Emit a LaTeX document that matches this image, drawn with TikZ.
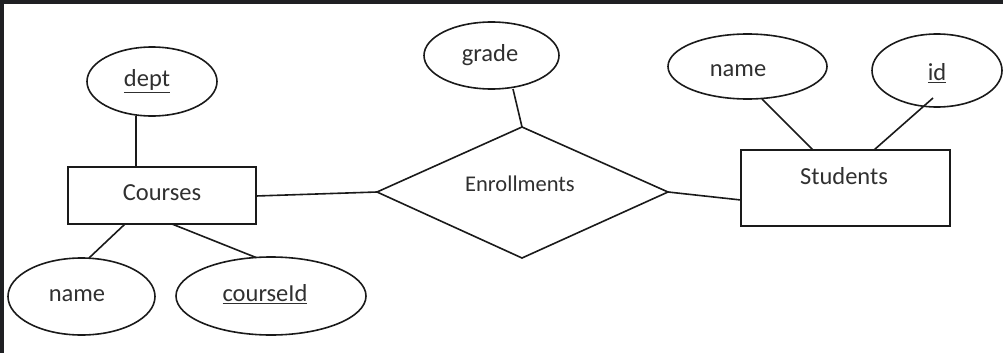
\documentclass[tikz,border=0pt]{standalone}
\usepackage{fontspec}
\setmainfont{Carlito}
\usetikzlibrary{shapes.geometric}
\definecolor{frame}{HTML}{1F2023}
\definecolor{ink}{HTML}{1A1A1A}
\definecolor{txtc}{HTML}{303030}
\begin{document}
\begin{tikzpicture}[x=1pt,y=-1pt,
  lw/.style={line width=1.6pt, draw=ink},
  entity/.style={lw, rectangle, inner sep=0pt},
  attr/.style={lw, ellipse, inner sep=0pt},
  txt/.style={font=\fontsize{24.5}{28}\selectfont, text=txtc, inner sep=0pt},
  conn/.style={lw}]
\useasboundingbox (0,0) rectangle (1003,353);
\fill[white] (0,0) rectangle (1003,353);
\fill[frame] (0,0) rectangle (1003,4);
\fill[frame] (0,0) rectangle (4,353);

% Courses
\node[entity, minimum width=188pt, minimum height=57pt] (courses) at (162,195.5) {};
\node[txt] (coursesT) at (162,193) {Courses};
\node[attr, minimum width=130pt, minimum height=69pt] (dept) at (152,81.5) {};
\node[txt] (deptT) at (147,81) {\underline{dept}};
\node[attr, minimum width=147pt, minimum height=77pt] (cname) at (81.5,296.5) {};
\node[txt] (cnameT) at (77,296) {name};
\node[attr, minimum width=190pt, minimum height=78pt] (cid) at (271,296) {};
\node[txt] (cidT) at (265,294) {\underline{courseId}};

% Enrollments
\coordinate (dL) at (377,192);
\coordinate (dT) at (522,127);
\coordinate (dR) at (668,192);
\coordinate (dB) at (522,258);
\draw[lw, line join=miter] (dL) -- (dT) -- (dR) -- (dB) -- cycle;
\node[txt, font=\fontsize{22.5}{26}\selectfont] (enrT) at (520,184) {Enrollments};
\node[attr, minimum width=135pt, minimum height=67pt] (grade) at (491.5,55.5) {};
\node[txt] (gradeT) at (490,55) {grade};

% Students
\node[entity, minimum width=209pt, minimum height=76pt] (students) at (845.5,188) {};
\node[txt] (studentsT) at (844,176) {Students};
\node[attr, minimum width=159pt, minimum height=65pt] (sname) at (747.5,66.5) {};
\node[txt] (snameT) at (738,71) {name};
\node[attr, minimum width=130pt, minimum height=73pt] (sid) at (937,70.5) {};
\node[txt] (sidT) at (937,73) {\underline{id}};

% connectors
\coordinate (c1) at (136,167);
\coordinate (c1e) at (136,116);
\draw[conn] (c1e) -- (c1);
\coordinate (c2a) at (125,224);
\coordinate (c2b) at (89,258);
\draw[conn] (c2a) -- (c2b);
\coordinate (c3a) at (172,224);
\coordinate (c3b) at (256,257.5);
\draw[conn] (c3a) -- (c3b);
\coordinate (c4a) at (256,196);
\draw[conn] (c4a) -- (dL);
\coordinate (c5a) at (513,89);
\draw[conn] (c5a) -- (dT);
\coordinate (c6b) at (741,200);
\draw[conn] (dR) -- (c6b);
\coordinate (c7a) at (762,99);
\coordinate (c7b) at (813,150);
\draw[conn] (c7a) -- (c7b);
\coordinate (c8a) at (933,98);
\coordinate (c8b) at (874,150);
\draw[conn] (c8a) -- (c8b);
\end{tikzpicture}
\end{document}
